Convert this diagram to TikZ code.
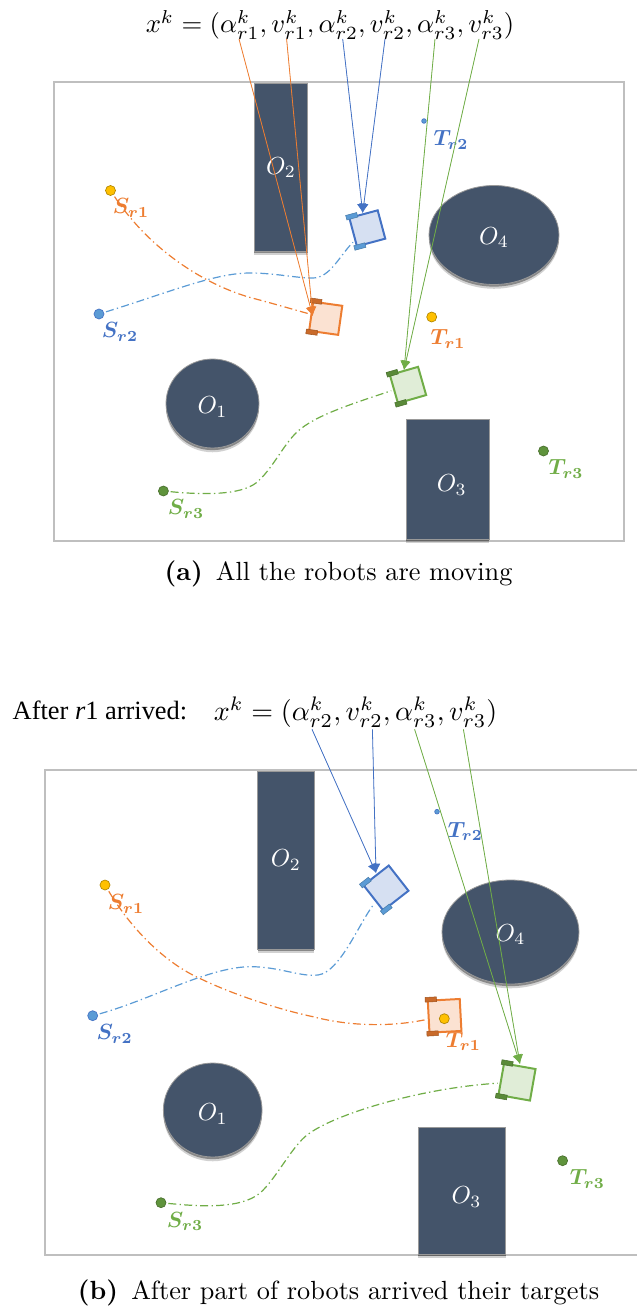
\documentclass[tikz,border=0pt]{standalone}
\usepackage{amsmath,amssymb}
\usepackage{fontspec}
\newfontfamily\headfont{Liberation Serif}
\usepackage{xcolor}
\usetikzlibrary{arrows.meta,shapes.geometric,calc,shadows}
\definecolor{RobOrange}{HTML}{ED7D31}
\definecolor{RobBlue}{HTML}{4472C4}
\definecolor{RobSky}{HTML}{5B9BD5}
\definecolor{RobGreen}{HTML}{70AD47}
\definecolor{RobGold}{HTML}{FFC000}
\definecolor{ObsDark}{HTML}{44546A}
% index, lowering of the text
\newcommand{\obsname}[2]{\raisebox{-#2}[\height][\depth]{\scalebox{1.85}{$O_#1$}}}
\tikzset{
  framebox/.style={draw=black!25,line width=0.8pt},
  obstacle/.style={fill=ObsDark,draw=black!40,line width=0.6pt,inner sep=0pt,text=white,
    general shadow={shadow yshift=-3.2pt,fill=black,opacity=0.18},
    general shadow={shadow yshift=-1.6pt,fill=black,opacity=0.35}},
  blockobs/.style={obstacle,rectangle},
  roundobs/.style={obstacle,ellipse},
  startdot/.style={circle,inner sep=0pt,minimum size=7.5pt,line width=0.5pt},
  golddot/.style={startdot,fill=RobGold,draw=RobGold!70!black},
  skydot/.style={startdot,fill=RobSky,draw=RobBlue},
  greendot/.style={startdot,fill=RobGreen!85!black,draw=RobGreen!65!black},
  tinydot/.style={skydot,minimum size=3.5pt},
  tag/.style={inner sep=0pt,scale=1.65,font=\boldmath},
  formula/.style={inner sep=0pt,scale=2},
  captiontext/.style={inner sep=0pt,scale=1.97},
  track/.style={dash pattern=on 6pt off 2.5pt on 1pt off 2.5pt,line width=0.9pt,shorten <=1.5pt,shorten >=1.5pt},
  linkarrow/.style={-{Latex[length=7pt,width=7pt]},line width=0.6pt},
  carbody/.style={rectangle,inner sep=0pt,line width=1.5pt},
  carwheel/.style={rectangle,inner sep=0pt,minimum width=8.5pt,minimum height=3.5pt,line width=0.4pt}
}
% name, position, angle, colour, wheel colour, size
\newcommand{\robotcar}[6]{
  \node[carbody,draw=#4,fill=#4!22,rotate=#3,minimum size=#6] (#1) at (#2) {};
  \node[carwheel,fill=#5,draw=#5!80!black,rotate=#3] (#1top) at ($(#1.north west)!.12!(#1.north east)$) {};
  \node[carwheel,fill=#5,draw=#5!80!black,rotate=#3] (#1low) at ($(#1.south west)!.12!(#1.south east)$) {};
}
\begin{document}
\begin{tikzpicture}[x=0.75pt,y=-0.75pt]
\useasboundingbox (0,0) rectangle (637,1309);
% part a
\node[formula] (fa) at (330,25) {$x^k=(\alpha_{r1}^k,v_{r1}^k,\alpha_{r2}^k,v_{r2}^k,\alpha_{r3}^k,v_{r3}^k)$};
\draw[framebox] (54,82) rectangle (624,541);
\node[blockobs,minimum width=40pt,minimum height=126pt] (oa2) at (281,167) {\obsname{2}{.5pt}};
\node[roundobs,minimum width=97.5pt,minimum height=74.25pt] (oa4) at (494,235) {\obsname{4}{2pt}};
\node[roundobs,minimum width=69.75pt,minimum height=66.75pt] (oa1) at (212.5,403.5) {\obsname{1}{2.5pt}};
\node[blockobs,minimum width=61.9pt,minimum height=90pt] (oa3) at (447.7,479) {\hspace*{6pt}\obsname{3}{4.5pt}};
\node[golddot] (sa1) at (110.5,190.5) {};
\node[skydot] (sa2) at (99,314) {};
\node[greendot] (sa3) at (163.4,491) {};
\node[golddot] (ta1) at (431.7,317) {};
\node[tinydot] (ta2) at (424,121) {};
\node[greendot] (ta3) at (543.5,451) {};
\node[tag,text=RobOrange] (lsa1) at (131,208) {$S_{r1}$};
\node[tag,text=RobBlue] (lsa2) at (120,332) {$S_{r2}$};
\node[tag,text=RobGreen] (lsa3) at (186,509) {$S_{r3}$};
\node[tag,text=RobOrange] (lta1) at (448,339) {$T_{r1}$};
\node[tag,text=RobBlue] (lta2) at (451,140) {$T_{r2}$};
\node[tag,text=RobGreen] (lta3) at (566,469) {$T_{r3}$};
\robotcar{cara1}{325.7,318.3}{-8}{RobOrange}{RobOrange!85!black}{22pt}
\robotcar{cara2}{367.3,228.3}{15}{RobBlue}{RobSky}{22pt}
\robotcar{cara3}{408,385}{16}{RobGreen}{RobGreen!80!black}{22pt}
\draw[track,RobOrange] (sa1) .. controls (150,250) and (205,285) .. (252,298) .. controls (275,304) and (295,310) .. (cara1);
\draw[track,RobSky] (sa2) .. controls (170,292) and (215,273) .. (250,273) .. controls (275,273) and (295,278) .. (313,278) .. controls (330,278) and (340,255) .. (cara2);
\draw[track,RobGreen] (sa3) .. controls (205,495) and (240,495) .. (256,483) .. controls (272,470) and (283,445) .. (297,432) .. controls (315,415) and (355,403) .. (cara3);
\coordinate (pa1) at (239,39);
\coordinate (pa2) at (286.6,39);
\coordinate (pa3) at (342.7,39);
\coordinate (pa4) at (385,39);
\coordinate (pa5) at (435,39);
\coordinate (pa6) at (479,39);
\coordinate (tipa1) at (312.7,316);
\coordinate (tipa2) at (362.7,213);
\coordinate (tipa3) at (404,370);
\draw[linkarrow,draw=RobOrange,fill=RobOrange] (pa1) -- (tipa1);
\draw[linkarrow,draw=RobOrange,fill=RobOrange] (pa2) -- (tipa1);
\draw[linkarrow,draw=RobBlue,fill=RobBlue] (pa3) -- (tipa2);
\draw[linkarrow,draw=RobBlue,fill=RobBlue] (pa4) -- (tipa2);
\draw[linkarrow,draw=RobGreen,fill=RobGreen] (pa5) -- (tipa3);
\draw[linkarrow,draw=RobGreen,fill=RobGreen] (pa6) -- (tipa3);
\node[captiontext] (capa) at (338.5,574) {\textbf{(a)}\enspace All the robots are moving};
% part b
\node[inner sep=0pt,scale=1.98,font=\headfont] (headb) at (100,710) {After \textit{r}1 arrived:};
\node[inner sep=0pt,scale=2.1] (fb) at (355.5,712) {$x^k=(\alpha_{r2}^k,v_{r2}^k,\alpha_{r3}^k,v_{r3}^k)$};
\draw[framebox] (637,770) -- (45,770) -- (45,1255) -- (637,1255);
\node[blockobs,minimum width=42.2pt,minimum height=133.5pt] (ob2) at (285.9,860) {\obsname{2}{0pt}};
\node[roundobs,minimum width=102.75pt,minimum height=78pt] (ob4) at (510.5,932) {\obsname{4}{2pt}};
\node[roundobs,minimum width=74pt,minimum height=70.5pt] (ob1) at (212.7,1110) {\obsname{1}{3pt}};
\node[blockobs,minimum width=65.8pt,minimum height=95.25pt] (ob3) at (461.8,1190.5) {\hspace*{7pt}\obsname{3}{5pt}};
\node[golddot] (sb1) at (105,885) {};
\node[skydot] (sb2) at (92.7,1015.7) {};
\node[greendot] (sb3) at (161,1202.7) {};
\node[tinydot] (tb2) at (437,811.7) {};
\node[greendot] (tb3) at (562.6,1160.7) {};
\node[tag,text=RobOrange] (lsb1) at (126,904) {$S_{r1}$};
\node[tag,text=RobBlue] (lsb2) at (114.6,1034) {$S_{r2}$};
\node[tag,text=RobGreen] (lsb3) at (185,1221.7) {$S_{r3}$};
\node[tag,text=RobOrange] (ltb1) at (463.4,1041.7) {$T_{r1}$};
\node[tag,text=RobBlue] (ltb2) at (465.4,831.7) {$T_{r2}$};
\node[tag,text=RobGreen] (ltb3) at (587.4,1179) {$T_{r3}$};
\robotcar{carb1}{444.6,1015.8}{3}{RobOrange}{RobOrange!85!black}{24pt}
\robotcar{carb2}{386,888}{38}{RobBlue}{RobSky}{24pt}
\robotcar{carb3}{517,1082}{-10}{RobGreen}{RobGreen!80!black}{24pt}
\node[golddot] (tb1) at (444.3,1018.7) {};
\draw[track,RobOrange] (sb1) .. controls (135,935) and (170,965) .. (199,978) .. controls (240,998) and (290,1012) .. (313,1016.7) .. controls (345,1025) and (385,1028) .. (carb1);
\draw[track,RobSky] (sb2) .. controls (150,1000) and (210,966) .. (252,966.7) .. controls (280,967) and (300,977) .. (318,975) .. controls (340,972) and (358,925) .. (carb2);
\draw[track,RobGreen] (sb3) .. controls (195,1206) and (240,1210) .. (260,1193) .. controls (275,1180) and (290,1150) .. (305,1136.7) .. controls (330,1115) and (420,1088) .. (carb3);
\coordinate (pb3) at (312,729.3);
\coordinate (pb4) at (372.4,729.3);
\coordinate (pb5) at (414.6,729.3);
\coordinate (pb6) at (463.4,729.3);
\coordinate (tipb2) at (376,873);
\coordinate (tipb3) at (520,1064);
\draw[linkarrow,draw=RobBlue,fill=RobBlue] (pb3) -- (tipb2);
\draw[linkarrow,draw=RobBlue,fill=RobBlue] (pb4) -- (tipb2);
\draw[linkarrow,draw=RobGreen,fill=RobGreen] (pb5) -- (tipb3);
\draw[linkarrow,draw=RobGreen,fill=RobGreen] (pb6) -- (tipb3);
\node[captiontext] (capb) at (338.5,1292.5) {\textbf{(b)}\enspace After part of robots arrived their targets};
\end{tikzpicture}
\end{document}
